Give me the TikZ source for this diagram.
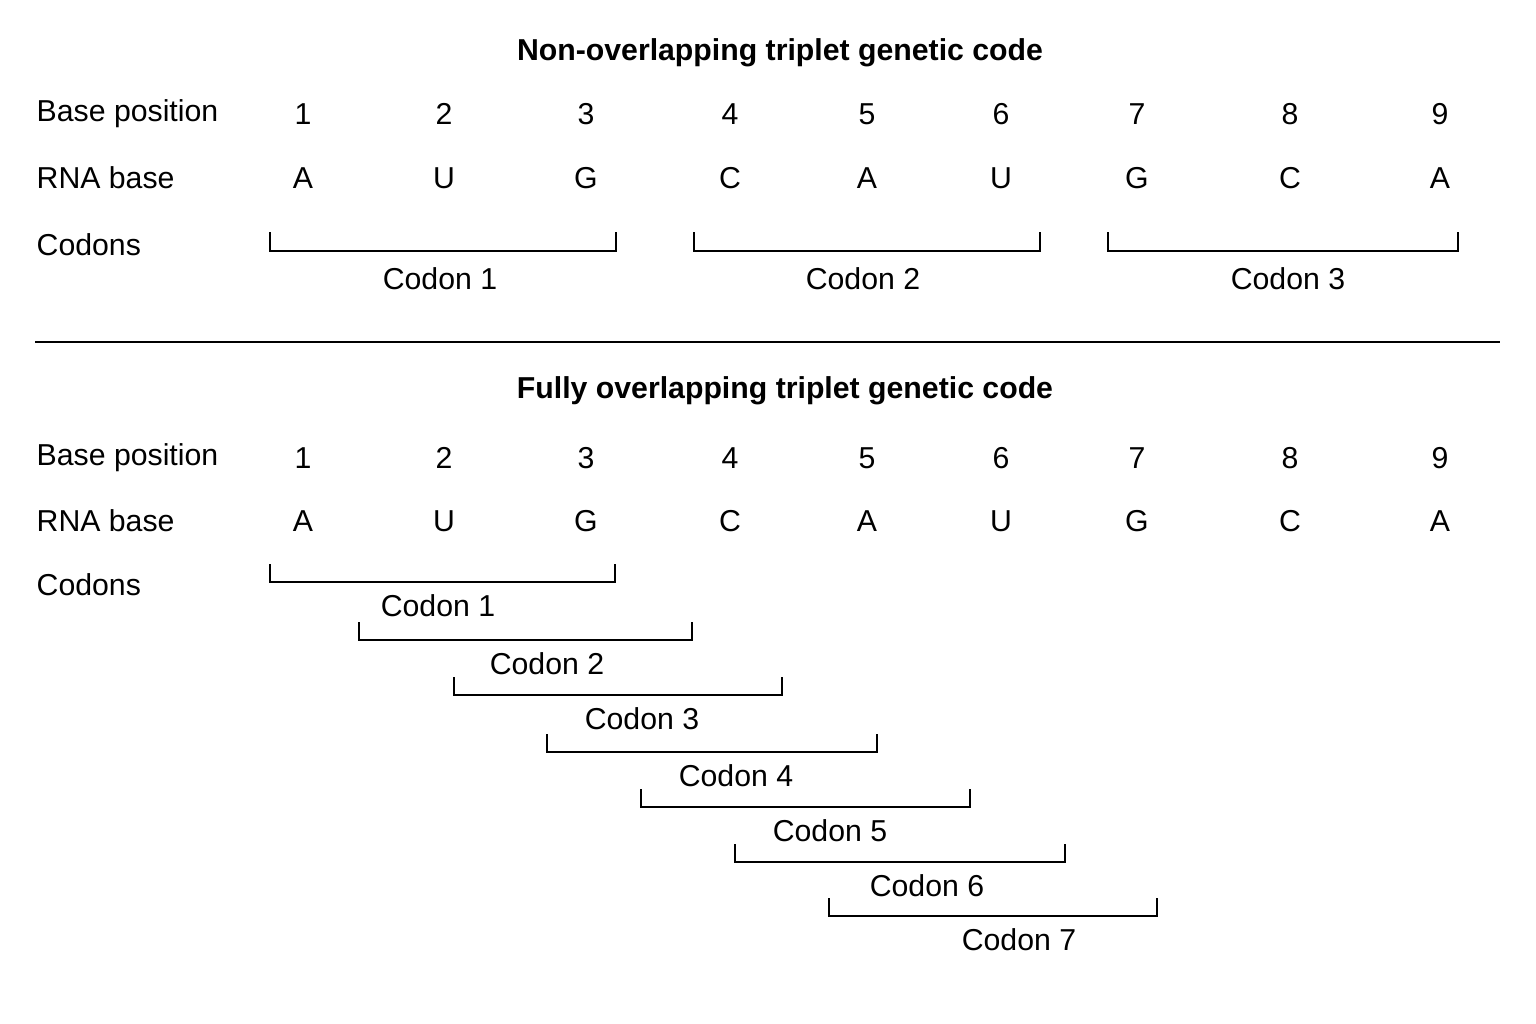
\documentclass[tikz,border=0pt]{standalone}
\usepackage{fontspec}
\setmainfont{Liberation Sans}
\begin{document}
\begin{tikzpicture}[x=0.01cm,y=-0.01cm]
      \tikzset{lbl/.style={font=\fontsize{8.6}{10}\selectfont, inner sep=0pt},
               rowlbl/.style={lbl, anchor=west},
               ttl/.style={font=\fontsize{8.6}{10}\selectfont\bfseries, inner sep=0pt},
               brk/.style={thick}}
      \useasboundingbox (0,0) rectangle (1536,1024);
%% Non-overlapping
      \node[ttl] (t1) at (780,53) {Non-overlapping triplet genetic code};
      \node[rowlbl] (bp1) at (36,114) {Base position};
      \node[rowlbl] (rb1) at (36,178) {RNA base};
      \node[rowlbl] (cd1) at (36,245) {Codons};
      \foreach \x/\n/\b in {303/1/A,444/2/U,586/3/G,730/4/C,867/5/A,1001/6/U,1137/7/G,1290/8/C,1440/9/A}{
        \node[lbl] (p1\n) at (\x,114) {\n};
        \node[lbl] (r1\n) at (\x,178) {\b};
      }
      \foreach \a/\b/\c/\n in {270/616/440/1,694/1040/863/2,1108/1458/1288/3}{
        \draw[brk] (\a,232) -- (\a,251) -- (\b,251) -- (\b,232);
        \node[lbl] (c1\n) at (\c,279) {Codon \n};
      }
%% Divider
      \draw[thick] (35,342) -- (1500,342);
%% Fully overlapping
      \node[ttl] (t2) at (785,391) {Fully overlapping triplet genetic code};
      \node[rowlbl] (bp2) at (36,458) {Base position};
      \node[rowlbl] (rb2) at (36,521) {RNA base};
      \node[rowlbl] (cd2) at (36,585) {Codons};
      \foreach \x/\n/\b in {303/1/A,444/2/U,586/3/G,730/4/C,867/5/A,1001/6/U,1137/7/G,1290/8/C,1440/9/A}{
        \node[lbl] (p2\n) at (\x,458) {\n};
        \node[lbl] (r2\n) at (\x,521) {\b};
      }
      \foreach \a/\b/\t/\c/\n in {270/615/564/438/1,359/692/622/547/2,454/782/677/642/3,547/877/734/736/4,641/970/789/830/5,735/1065/844/927/6,829/1157/898/1019/7}{
        \draw[brk] (\a,\t) -- (\a,\t+18) -- (\b,\t+18) -- (\b,\t);
        \node[lbl] (c2\n) at (\c,\t+42) {Codon \n};
      }
\end{tikzpicture}
\end{document}
